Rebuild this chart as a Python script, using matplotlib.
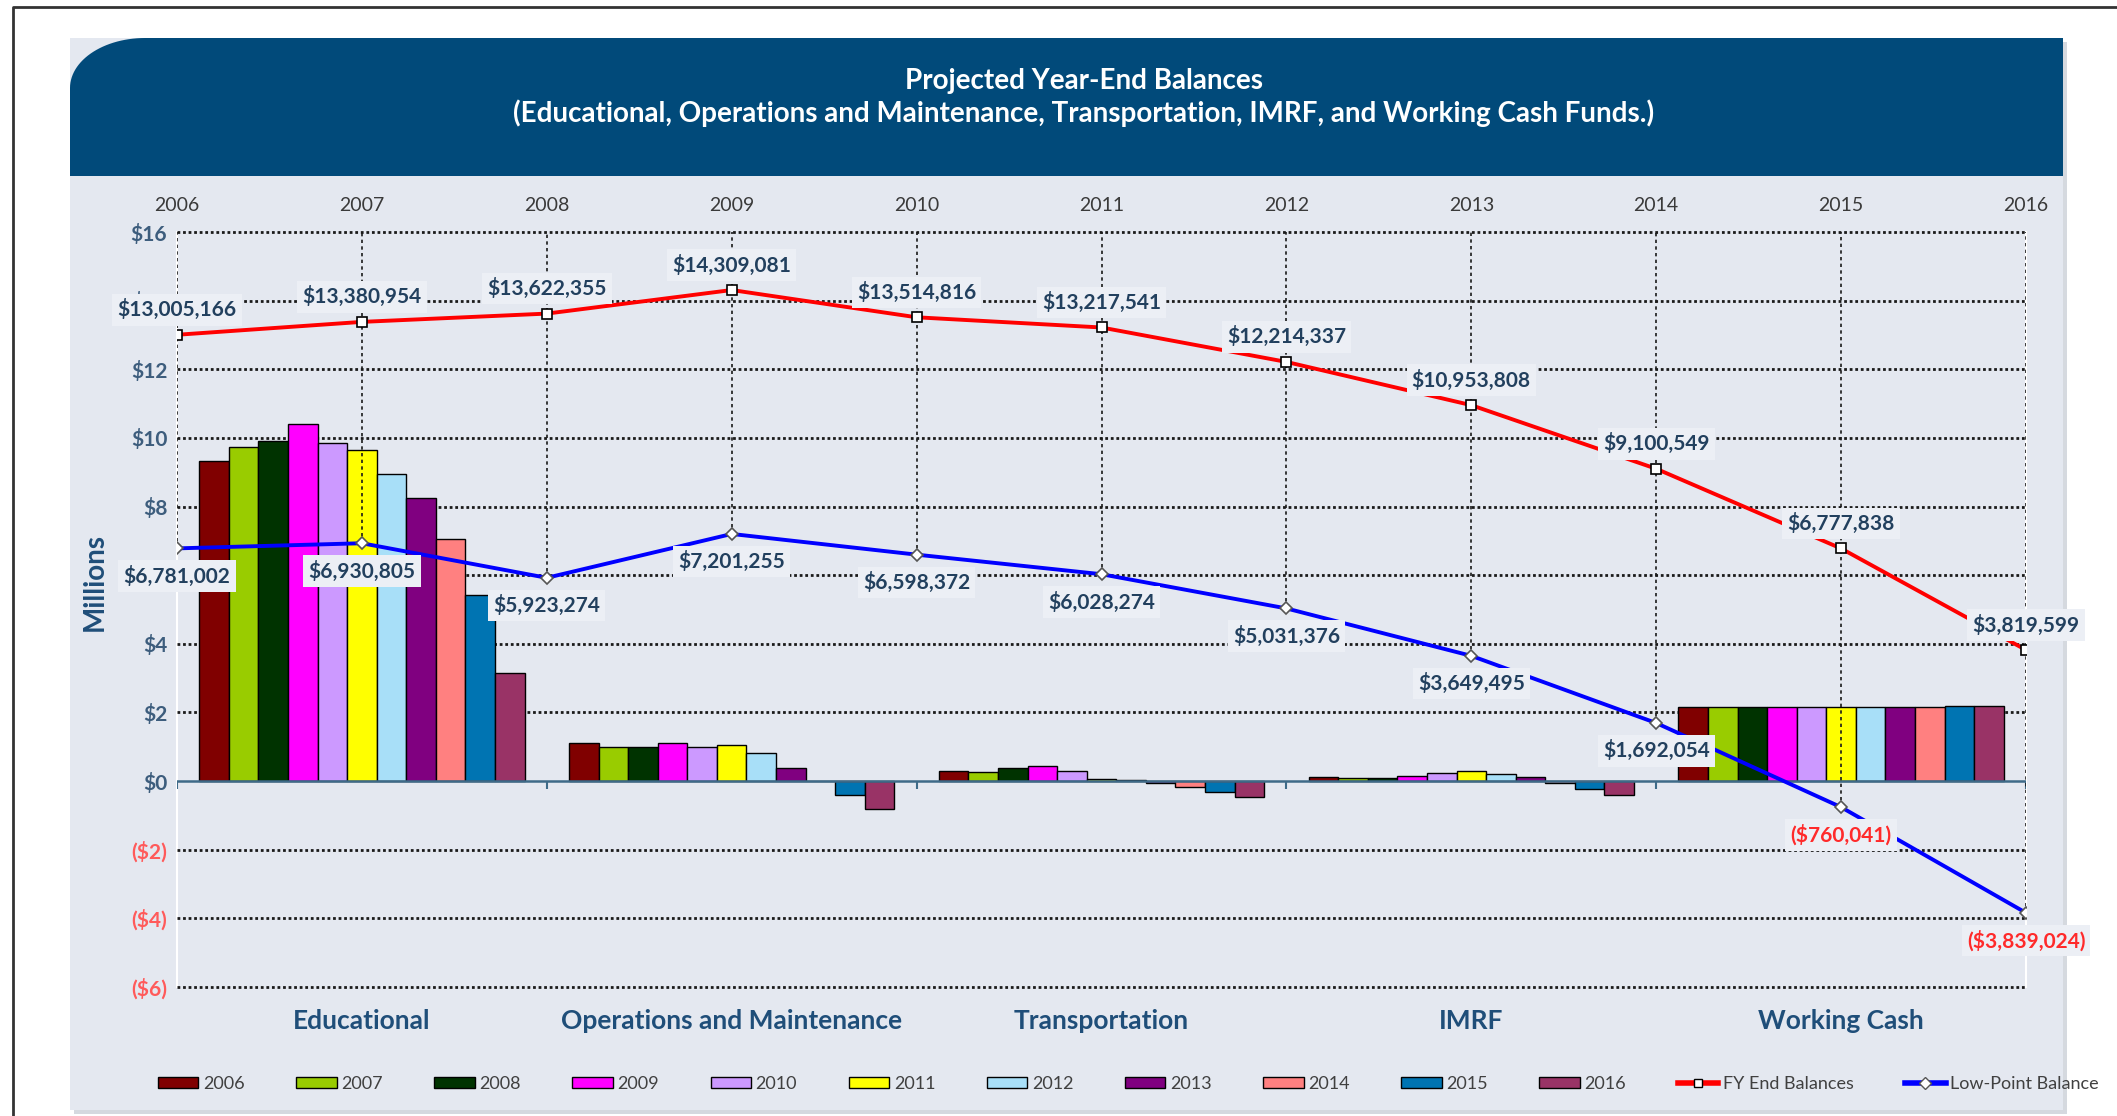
import numpy as np
import matplotlib.pyplot as plt
from matplotlib.patches import Polygon, Rectangle, Patch
from matplotlib.lines import Line2D

plt.rcParams['font.family'] = ['Lato', 'DejaVu Sans']

# ---- data ($ millions for the bars, dollars for the two lines) ----
years = ['2006', '2007', '2008', '2009', '2010', '2011', '2012', '2013', '2014', '2015', '2016']
funds = ['Educational', 'Operations and Maintenance', 'Transportation', 'IMRF', 'Working Cash']

educational = [9.32, 9.74, 9.92, 10.41, 9.86, 9.65, 8.95, 8.25, 7.05, 5.42, 3.15]
operations = [1.11, 0.98, 0.99, 1.11, 0.99, 1.05, 0.83, 0.37, 0.0, -0.40, -0.80]
transportation = [0.28, 0.26, 0.38, 0.44, 0.28, 0.05, 0.04, -0.06, -0.18, -0.32, -0.45]
imrf = [0.12, 0.10, 0.10, 0.16, 0.23, 0.28, 0.22, 0.12, -0.05, -0.23, -0.40]
working_cash = [2.15, 2.15, 2.15, 2.15, 2.15, 2.15, 2.15, 2.15, 2.15, 2.20, 2.20]

fy_end = [13005166, 13380954, 13622355, 14309081, 13514816, 13217541,
          12214337, 10953808, 9100549, 6777838, 3819599]
low_point = [6781002, 6930805, 5923274, 7201255, 6598372, 6028274,
             5031376, 3649495, 1692054, -760041, -3839024]

bar_colors = ['#800000', '#99CC00', '#003300', '#FF00FF', '#CC99FF', '#FFFF00',
              '#A8DFF8', '#800080', '#FF8080', '#0074B2', '#993366']

navy = '#014A7A'
panel = '#E4E8F0'
label_blue = '#22405E'
neg_red = '#FF2A2A'

W, H = 2117, 1116
fig = plt.figure(figsize=(W / 100, H / 100), dpi=100)
fig.patch.set_facecolor('white')

# background layer in pixel coordinates
bg = fig.add_axes([0, 0, 1, 1], zorder=0)
bg.set_xlim(0, W)
bg.set_ylim(H, 0)
bg.axis('off')

bg.plot([13, 13, W], [H, 7, 7], color='#333333', lw=2)
bg.add_patch(Rectangle((74, 42), 1993, 1072, facecolor='#D5D9DF', edgecolor='none'))
bg.add_patch(Rectangle((70, 38), 1993, 1072, facecolor=panel, edgecolor='none'))

# title banner, rounded only at the top-left corner
rx, ry = 75, 50
t = np.linspace(0, np.pi / 2, 30)
arc = np.column_stack([70 + rx - rx * np.cos(t), 38 + ry - ry * np.sin(t)])
banner = np.vstack([[[70, 176]], arc, [[2063, 38], [2063, 176]]])
bg.add_patch(Polygon(banner, closed=True, facecolor=navy, edgecolor='none'))
bg.text(1084, 81, 'Projected Year-End Balances', color='white', fontsize=20,
        fontweight='bold', ha='center', va='center')
bg.text(1084, 113, '(Educational, Operations and Maintenance, Transportation, IMRF, and Working Cash Funds.)',
        color='white', fontsize=20, fontweight='bold', ha='center', va='center')
bg.text(95, 582, 'Millions', color='#1F4E79', fontsize=20, fontweight='bold',
        rotation=90, ha='center', va='center')

# ---- main plot ----
ax = fig.add_axes([177 / W, 129 / H, (2026 - 177) / W, (987 - 232) / H], zorder=1)
ax.set_facecolor('none')
ax.set_xlim(0, 10)
ax.set_ylim(-6, 16)

for s in ['top', 'bottom']:
    ax.spines[s].set_visible(False)
for s in ['left', 'right']:
    ax.spines[s].set_color('white')
    ax.spines[s].set_linewidth(1.5)
    ax.spines[s].set_zorder(0.5)

# horizontal dotted gridlines
for yv in range(-6, 17, 2):
    if yv != 0:
        ax.plot([0, 10], [yv, yv], color='#1A1A1A', lw=2, ls=(0, (1, 1)),
                zorder=1, clip_on=False)

# clustered bars: five fund groups, one bar per year
fund_values = np.array([educational, operations, transportation, imrf, working_cash])
bw = 0.16
group_start = np.arange(len(funds)) * 2 + 0.12
for j, yr in enumerate(years):
    ax.bar(group_start + bw * (j + 0.5), fund_values[:, j], width=bw,
           color=bar_colors[j], edgecolor='black', lw=1, zorder=2)

# zero axis with group separators
ax.axhline(0, color='#3E6A88', lw=1.8, zorder=2.2)
ax.vlines(np.arange(0, 11, 2), -0.22, 0, color='#3E6A88', lw=1.5, zorder=2.2)

xs = np.arange(len(years))
fy_m = np.array(fy_end) / 1e6
low_m = np.array(low_point) / 1e6

# vertical dotted lines from the top down to the low point
ax.vlines(xs, low_m, 16, color='#1A1A1A', lw=1.2, linestyles=(0, (2, 2)), zorder=2.5)

ax.plot(xs, fy_m, color='#FF0000', lw=2.8, marker='s', ms=6.5, mfc='white',
        mec='black', mew=1.2, zorder=3, label='FY End Balances')
ax.plot(xs, low_m, color='#0000FF', lw=2.8, marker='D', ms=6.5, mfc='white',
        mec='#555555', mew=1.2, zorder=3, label='Low-Point Balance')


def money(v):
    s = '${:,.0f}'.format(abs(v))
    return '(' + s + ')' if v < 0 else s


box = dict(boxstyle='square,pad=0.25', facecolor='#ECEFF5', edgecolor='none')
for x, v in zip(xs, fy_end):
    ax.annotate(money(v), (x, v / 1e6), xytext=(0, 18), textcoords='offset points',
                ha='center', va='center', fontsize=15, fontweight='bold',
                color=neg_red if v < 0 else label_blue, bbox=box, zorder=4,
                annotation_clip=False)
for x, v in zip(xs, low_point):
    ax.annotate(money(v), (x, v / 1e6), xytext=(0, -20), textcoords='offset points',
                ha='center', va='center', fontsize=15, fontweight='bold',
                color=neg_red if v < 0 else label_blue, bbox=box, zorder=4,
                annotation_clip=False)

# y ticks
yt = list(range(-6, 17, 2))
ax.set_yticks(yt)
ax.set_yticklabels([('($%d)' % -v) if v < 0 else ('$%d' % v) for v in yt])
ax.tick_params(axis='y', length=0, pad=7, labelsize=15)
for lab, v in zip(ax.get_yticklabels(), yt):
    lab.set_color('#FF5A5A' if v < 0 else '#3D5D7D')
    lab.set_fontweight('bold')

# fund names below the plot
ax.set_xticks(np.arange(len(funds)) * 2 + 1)
ax.set_xticklabels(funds, fontsize=19, fontweight='bold', color='#1F4E79')
ax.tick_params(axis='x', length=0, pad=16)

# years along the top
top = ax.secondary_xaxis('top')
top.set_xticks(xs)
top.set_xticklabels(years, fontsize=14, color='#3A3A3A')
top.tick_params(length=0, pad=13)
top.spines['top'].set_visible(False)

# legend
handles = [Patch(facecolor=c, edgecolor='black', lw=1) for c in bar_colors]
handles += [Line2D([], [], color='#FF0000', lw=4, marker='s', ms=6, mfc='white', mec='black'),
            Line2D([], [], color='#0000FF', lw=4, marker='D', ms=6, mfc='white', mec='#555555')]
leg = fig.legend(handles, years + ['FY End Balances', 'Low-Point Balance'],
                 loc='center', bbox_to_anchor=(0.533, 0.029), ncol=13, frameon=False,
                 fontsize=13, handlelength=2.25, handleheight=0.6, handletextpad=0.25,
                 columnspacing=2.85)
for txt in leg.get_texts():
    txt.set_color('#404040')

fig.savefig('out.png', dpi=100)
